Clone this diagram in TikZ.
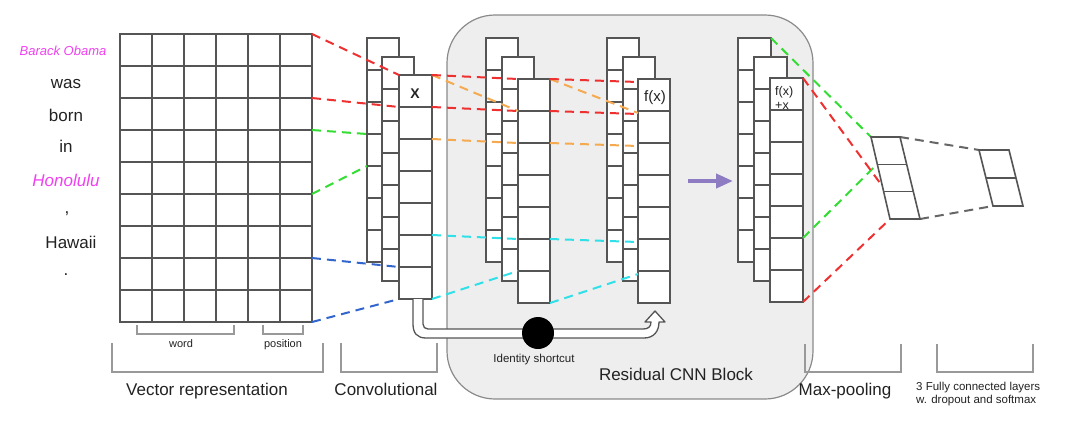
\documentclass[tikz,border=0pt]{standalone}
\usepackage{fontspec}
\setmainfont{Liberation Sans}
\usetikzlibrary{arrows.meta,calc}
\definecolor{linec}{HTML}{555555}
\definecolor{dred}{HTML}{EE3030}
\definecolor{dgreen}{HTML}{33DD33}
\definecolor{dblue}{HTML}{3366CC}
\definecolor{dorange}{HTML}{F5AA50}
\definecolor{dcyan}{HTML}{30E0E8}
\definecolor{dgrey}{HTML}{666666}
\definecolor{mag}{HTML}{F040F0}
\definecolor{txt}{HTML}{222222}
\definecolor{brk}{HTML}{999999}
\definecolor{boxfill}{HTML}{EEEEEE}
\definecolor{boxline}{HTML}{8A8A8A}
\definecolor{arrowc}{HTML}{8E7CC3}
\newcommand{\mkcol}[6]{%
  \foreach \i in {1,...,#4}{
    \node[cell, minimum width=#5pt, minimum height=#6pt] (#1-\i) at (#2, {#3+(\i-1)*#6}) {};
  }}
\tikzset{
  cell/.style={draw=linec, line width=1.7pt, fill=white, inner sep=0pt, outer sep=0pt, anchor=north west},
  link/.style={line width=2pt, dash pattern=on 9pt off 6pt},
  brack/.style={draw=brk, line width=1.1pt},
  word/.style={font=\fontsize{17}{17}\selectfont, text=txt, anchor=base, inner sep=0pt},
  lab/.style={font=\fontsize{17}{17}\selectfont, text=txt, anchor=base, inner sep=0pt},
  small/.style={font=\fontsize{11.5}{11.5}\selectfont, text=txt, anchor=base, inner sep=0pt},
  para/.style={draw=linec, line width=1.6pt, fill=white, line join=miter},
}
\begin{document}
\begin{tikzpicture}[x=1pt,y=-1pt]
\useasboundingbox (0,0) rectangle (1080,429);
% residual block background
\draw[fill=boxfill, draw=boxline, line width=1.2pt, rounded corners=48pt] (447,15) rectangle (813,399);
% grid
\foreach \r in {1,...,9}{
  \foreach \c in {1,...,6}{
    \node[cell, minimum width=32pt, minimum height=32pt] (g-\r-\c) at ({120+(\c-1)*32},{34+(\r-1)*32}) {};
  }}
% convolutional stack
\mkcol{cb}{367}{38}{7}{32}{32}
\mkcol{cm}{382}{57}{7}{32}{32}
\mkcol{cf}{399}{75}{7}{33}{32}
% residual stack 1
\mkcol{rb}{486}{38}{7}{32}{32}
\mkcol{rm}{502}{57}{7}{32}{32}
\mkcol{rf}{518}{79}{7}{32}{32}
% residual stack 2
\mkcol{sb}{607}{38}{7}{32}{32}
\mkcol{sm}{623}{57}{7}{32}{32}
\mkcol{sf}{638}{79}{7}{32}{32}
% output stack
\mkcol{ob}{738}{38}{7}{33}{32}
\mkcol{om}{754}{57}{7}{33}{32}
\mkcol{of}{770}{78}{7}{33}{32}
% cell texts
\node[font=\fontsize{14}{14}\selectfont\bfseries, text=txt, anchor=base, inner sep=0pt] (tx) at (415,98) {X};
\node[font=\fontsize{15}{15}\selectfont, text=txt, anchor=base, inner sep=0pt] (tfx) at (655,101) {f(x)};
\node[font=\fontsize{12.5}{12.5}\selectfont, text=txt, anchor=base west, inner sep=0pt] (tfx2) at (775,95) {f(x)};
\node[font=\fontsize{12.5}{12.5}\selectfont, text=txt, anchor=base west, inner sep=0pt] (tpx) at (775,109) {+x};
% words
\node[word, font=\fontsize{13}{13}\selectfont\itshape, text=mag] (w1) at (63,55) {Barack Obama};
\node[word] (w2) at (66,88) {was};
\node[word] (w3) at (66,121) {born};
\node[word] (w4) at (66,152) {in};
\node[word, font=\fontsize{17}{17}\selectfont\itshape, text=mag] (w5) at (66,186) {Honolulu};
\node[word] (w6) at (67,213) {,};
\node[word] (w7) at (71,248) {Hawaii};
\node[word] (w8) at (66,275) {.};
% grid -> conv
\draw[link, dred] (g-1-6.north east) -- (cf-1.north west);
\draw[link, dred] (g-2-6.south east) -- (cf-1.south west);
\draw[link, dgreen] (g-3-6.south east) -- (cb-4.north west);
\draw[link, dgreen] (g-5-6.south east) -- (cb-5.north west);
\draw[link, dblue] (g-7-6.south east) -- (cf-7.north west);
\draw[link, dblue] (g-9-6.south east) -- (cf-7.south west);
% conv -> res1
\draw[link, dorange] (cf-1.north east) -- (rf-2.north west);
\draw[link, dred] (cf-1.north east) -- (rf-1.north west);
\draw[link, dred] (cf-1.south east) -- (rf-1.south west);
\draw[link, dorange] (cf-2.south east) -- (rf-3.north west);
\draw[link, dcyan] (cf-6.north east) -- (rf-6.north west);
\draw[link, dcyan] (cf-7.south east) -- (rf-7.north west);
% res1 -> res2
\draw[link, dorange] (rf-1.north east) -- ($(sf-2.north west)+(0,2)$);
\draw[link, dred] (rf-1.north east) -- ($(sf-1.north west)+(0,3)$);
\draw[link, dred] (rf-1.south east) -- ($(sf-1.south west)+(0,3)$);
\draw[link, dorange] (rf-2.south east) -- ($(sf-3.north west)+(0,3)$);
\draw[link, dcyan] (rf-6.north east) -- ($(sf-6.north west)+(0,3)$);
\draw[link, dcyan] (rf-7.south east) -- ($(sf-7.north west)+(0,3)$);
% identity shortcut
\draw[linec, line width=1.3pt, fill=white, line join=round] (413,299) -- (413,324) .. controls (413,333) and (417,338) .. (426,338) -- (644,338) .. controls (654,338) and (659,331) .. (659,322) -- (665,322) -- (655,311) -- (645,322) -- (651,322) .. controls (651,327) and (648,329) .. (643,329) -- (428,329) .. controls (425,329) and (423,327) .. (423,324) -- (423,299);
\node[circle, fill=black, minimum size=32pt, inner sep=0pt] (idc) at (538,333) {};
\node[small] (lid) at (534,362) {Identity shortcut};
% purple arrow
\coordinate (pa1) at (688,181);
\coordinate (pa2) at (733,181);
\draw[arrowc, line width=4pt, -{Triangle[length=17pt,width=14pt]}] (pa1) -- (pa2);
% max pooling and fully connected
\coordinate (mp-tl) at (871,137);
\coordinate (mp-tr) at (900,137);
\coordinate (mp-bl) at (890,219);
\coordinate (mp-br) at (920,219);
\coordinate (fc-tl) at (979,150);
\coordinate (fc-tr) at (1009,150);
\coordinate (fc-bl) at (993,206);
\coordinate (fc-br) at (1023,206);
\draw[link, dgreen] (ob-1.north east) -- (mp-tl);
\draw[link, dgreen] (of-6.north east) -- ($(mp-tl)!0.33!(mp-bl)$);
\draw[link, dred] (of-1.north east) -- ($(mp-tl)!0.6!(mp-bl)$);
\draw[link, dred] (of-7.south east) -- (mp-bl);
\draw[link, dgrey] (mp-tr) -- (fc-tl);
\draw[link, dgrey] (mp-br) -- (fc-bl);
\draw[para] (mp-tl) -- (mp-tr) -- (mp-br) -- (mp-bl) -- cycle;
\draw[para] ($(mp-tl)!0.333!(mp-bl)$) -- ($(mp-tr)!0.333!(mp-br)$);
\draw[para] ($(mp-tl)!0.667!(mp-bl)$) -- ($(mp-tr)!0.667!(mp-br)$);
\draw[para] (fc-tl) -- (fc-tr) -- (fc-br) -- (fc-bl) -- cycle;
\draw[para] ($(fc-tl)!0.5!(fc-bl)$) -- ($(fc-tr)!0.5!(fc-br)$);
% brackets
\draw[brack] (137,325) -- (137,334) -- (234,334) -- (234,325);
\draw[brack] (263,325) -- (263,334) -- (303,334) -- (303,325);
\draw[brack] (112,343) -- (112,372) -- (323,372) -- (323,343);
\draw[brack] (341,343) -- (341,372) -- (437,372) -- (437,343);
\draw[brack] (805,344) -- (805,372) -- (901,372) -- (901,344);
\draw[brack] (937,344) -- (937,372) -- (1033,372) -- (1033,344);
% labels
\node[small, font=\fontsize{11}{11}\selectfont] (lw) at (181,347) {word};
\node[small, font=\fontsize{11}{11}\selectfont] (lp) at (283,347) {position};
\node[lab] (lv) at (207,395) {Vector representation};
\node[lab] (lc) at (386,395) {Convolutional};
\node[lab] (lr) at (676,380) {Residual CNN Block};
\node[lab] (lm) at (845,395) {Max-pooling};
\node[small, anchor=base west] (lf1) at (916,390) {3 Fully connected layers};
\node[small, anchor=base west] (lf2) at (916,403) {w. dropout and softmax};
\end{tikzpicture}
\end{document}
